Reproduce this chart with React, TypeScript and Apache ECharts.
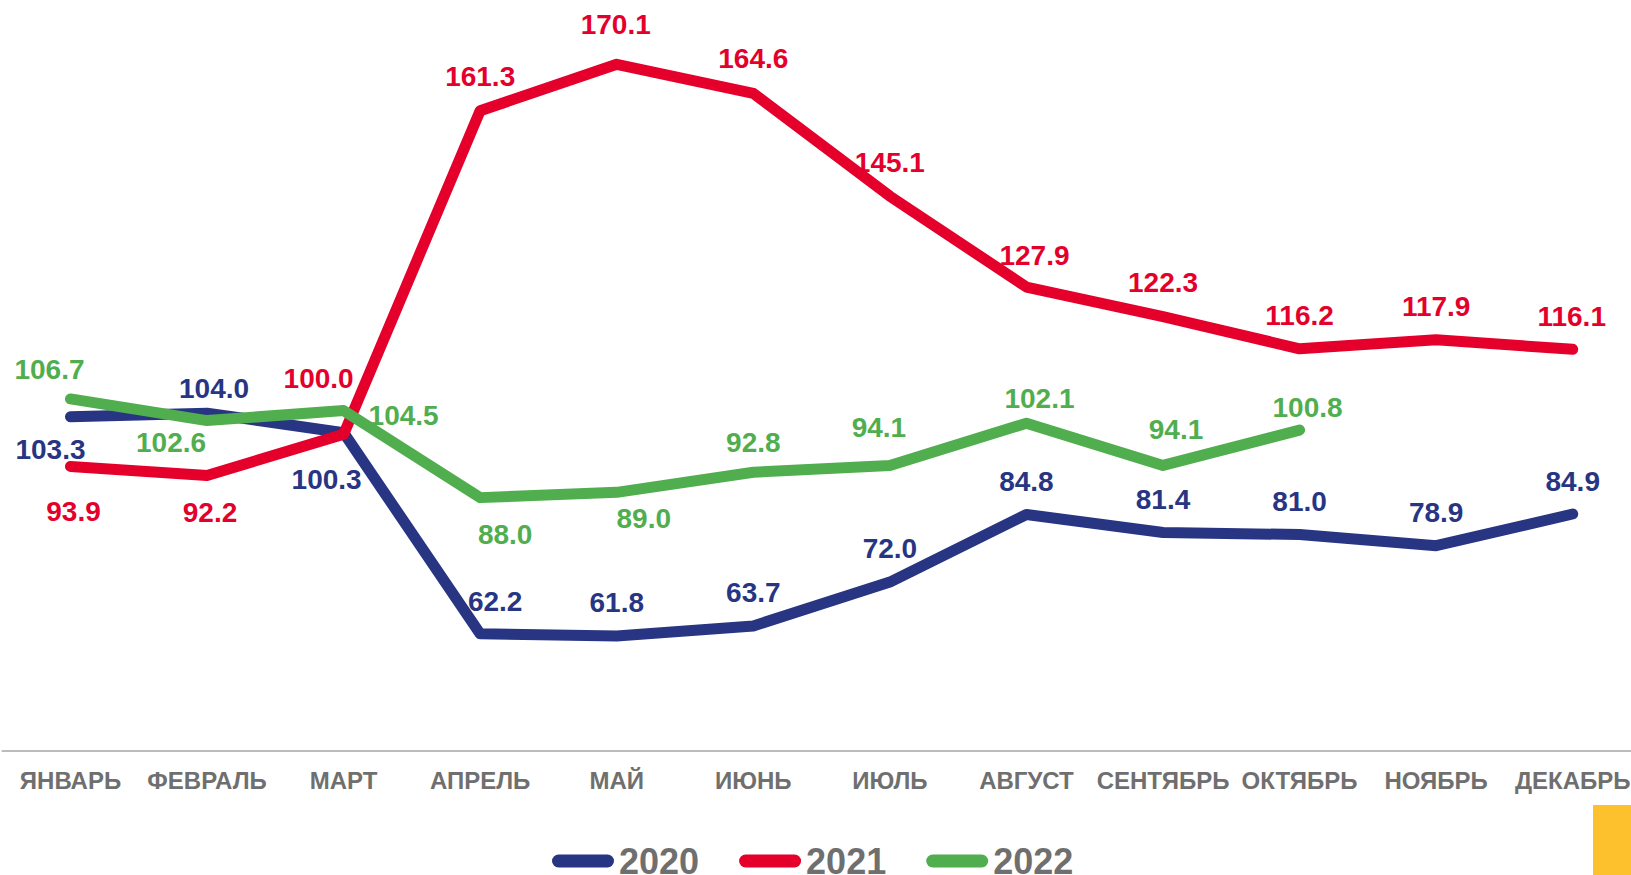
import React, { useEffect, useRef } from "react";
import * as echarts from "echarts";

const months = ["ЯНВАРЬ", "ФЕВРАЛЬ", "МАРТ", "АПРЕЛЬ", "МАЙ", "ИЮНЬ", "ИЮЛЬ", "АВГУСТ", "СЕНТЯБРЬ", "ОКТЯБРЬ", "НОЯБРЬ", "ДЕКАБРЬ"];
const seriesNames = ["2020", "2021", "2022"];
const values2020 = [103.3, 104.0, 100.3, 62.2, 61.8, 63.7, 72.0, 84.8, 81.4, 81.0, 78.9, 84.9];
const values2021 = [93.9, 92.2, 100.0, 161.3, 170.1, 164.6, 145.1, 127.9, 122.3, 116.2, 117.9, 116.1];
const values2022 = [106.7, 102.6, 104.5, 88.0, 89.0, 92.8, 94.1, 102.1, 94.1, 100.8];

// label placement (pixel offsets of label centre from its point)
const offsets2020: [number, number][] = [[-20, 33], [7, -25], [-17, 47], [15, -32], [0, -33], [0, -33], [0, -34], [0, -33], [0, -33], [0, -33], [0, -33], [0, -32]];
const offsets2021: [number, number][] = [[3, 45], [3, 37], [-25, -56], [0, -34], [-1, -40], [0, -35], [0, -34], [8, -32], [0, -34], [0, -33], [0, -33], [-1, -33]];
const offsets2022: [number, number][] = [[-21, -29], [-36, 22], [60, 5], [25, 37], [27, 26], [0, -30], [-11, -38], [13, -25], [13, -36], [8, -23]];

const colors = ["#283583", "#E4002B", "#50AE4F"];
const FONT = "'Liberation Sans', Arial, sans-serif";

function buildData(vals: number[], offs: [number, number][]) {
  return vals.map((v, i) => ({ value: v, label: { offset: offs[i] } }));
}

export default function App() {
  const ref = useRef<HTMLDivElement>(null);
  useEffect(() => {
    if (!ref.current) return;
    const chart = echarts.init(ref.current, undefined, { renderer: "svg" });
    const mk = (name: string, vals: number[], offs: [number, number][], color: string) => ({
      name,
      type: "line",
      data: buildData(vals, offs),
      symbol: "circle",
      symbolSize: 1,
      showAllSymbol: true,
      itemStyle: { color, borderWidth: 0 },
      lineStyle: { color, width: 11, cap: "round", join: "round" },
      label: {
        show: true,
        position: "inside",
        color,
        fontSize: 28,
        fontWeight: "bold",
        fontFamily: FONT,
        formatter: (p: any) => Number(p.value).toFixed(1),
      },
      emphasis: { disabled: true },
    });
    chart.setOption({
      animation: false,
      grid: { left: 2.2, right: 0, top: 12, bottom: 124, containLabel: false },
      legend: {
        data: seriesNames,
        left: 547,
        top: 838,
        itemWidth: 62,
        itemHeight: 13,
        itemGap: 40,
        icon: "path://M6.5,0H55.5A6.5,6.5 0 0 1 55.5,13H6.5A6.5,6.5 0 0 1 6.5,0Z",
        textStyle: { color: "#6F6F6F", fontSize: 36, lineHeight: 30, fontWeight: "bold", fontFamily: FONT },
        selectedMode: false,
      },
      xAxis: {
        type: "category",
        data: months,
        boundaryGap: true,
        axisTick: { show: false },
        axisLine: { lineStyle: { color: "#A6A6A6", width: 1.5 } },
        axisLabel: { color: "#6F6F6F", fontSize: 24, fontWeight: "bold", fontFamily: FONT, margin: 17, interval: 0 },
      },
      yAxis: {
        type: "value",
        min: 40,
        max: 180,
        show: false,
        splitLine: { show: false },
      },
      series: [
        mk(seriesNames[0], values2020, offsets2020, colors[0]),
        mk(seriesNames[1], values2021, offsets2021, colors[1]),
        mk(seriesNames[2], values2022, offsets2022, colors[2]),
      ],
      graphic: [
        { type: "rect", left: 1593, top: 805, shape: { width: 38, height: 70 }, style: { fill: "#FDC12E" } },
      ],
    });
    return () => chart.dispose();
  }, []);
  return <div ref={ref} style={{ position: "fixed", left: 0, top: 0, width: 1641, height: 875, background: "#fff" }} />;
}
